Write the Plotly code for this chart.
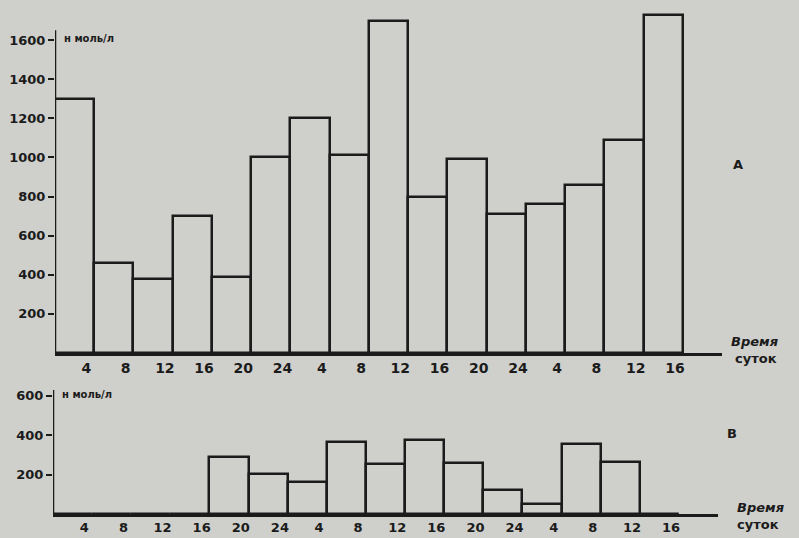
import plotly.graph_objects as go

hours = ["4", "8", "12", "16", "20", "24", "4", "8", "12", "16", "20", "24", "4", "8", "12", "16"]
values_a = [1300, 460, 380, 700, 390, 1000, 1200, 1010, 1700, 800, 990, 710, 760, 860, 1090, 1730]
values_b = [0, 0, 0, 0, 290, 205, 160, 365, 255, 375, 260, 120, 50, 355, 265, 0]
yticks_a = [200, 400, 600, 800, 1000, 1200, 1400, 1600]
yticks_b = [200, 400, 600]

W, H = 799, 538
BG = "#cfcfcb"
INK = "#1b1b1b"
FONT = "DejaVu Sans"

n = len(hours)
xc = [i + 0.5 for i in range(n)]
tickpos = [i + 0.8 for i in range(n)]

fig = go.Figure()
fig.add_trace(go.Bar(x=xc, y=values_a, width=1.0, marker=dict(color=BG, line=dict(color=INK, width=2.5)),
                     xaxis="x", yaxis="y", showlegend=False))
fig.add_trace(go.Bar(x=xc, y=values_b, width=1.0, marker=dict(color=BG, line=dict(color=INK, width=2.5)),
                     xaxis="x2", yaxis="y2", showlegend=False))

def px(x):
    return x / W

def py(y):
    return (H - y) / H

tickfont = dict(family=FONT, size=14, color=INK, weight="bold")
tickfont2 = dict(family=FONT, size=13, color=INK, weight="bold")
ytickfont = dict(family=FONT, size=13, color=INK, weight="bold")
fig.update_layout(
    template="none",
    width=W, height=H,
    margin=dict(l=0, r=0, t=0, b=0, pad=0),
    paper_bgcolor=BG, plot_bgcolor=BG,
    bargap=0,
    xaxis=dict(domain=[px(55), px(722)], range=[0, 17], tickvals=tickpos, ticktext=hours,
               showgrid=False, zeroline=False, showline=True, linecolor=INK, linewidth=2.5,
               ticks="", tickfont=tickfont, anchor="y", automargin=False),
    yaxis=dict(domain=[py(353), py(1)], range=[0, 1800], tickvals=yticks_a,
               ticktext=[str(v) for v in yticks_a],
               showgrid=False, zeroline=False, showline=False,
               ticks="outside", ticklen=6, tickwidth=2, tickcolor=INK,
               tickfont=ytickfont, anchor="x", automargin=False),
    xaxis2=dict(domain=[px(53), px(718)], range=[0, 17], tickvals=tickpos, ticktext=hours,
                showgrid=False, zeroline=False, showline=True, linecolor=INK, linewidth=2.5,
                ticks="", tickfont=tickfont2, anchor="y2", automargin=False),
    yaxis2=dict(domain=[py(514), py(386)], range=[0, 650], tickvals=yticks_b,
                ticktext=[str(v) for v in yticks_b],
                showgrid=False, zeroline=False, showline=False,
                ticks="outside", ticklen=6, tickwidth=2, tickcolor=INK,
                tickfont=ytickfont, anchor="x2", automargin=False),
)

# vertical axis lines (ending slightly above top tick)
fig.add_shape(type="line", xref="x", yref="y", x0=0, x1=0, y0=0, y1=1650,
              line=dict(color=INK, width=2.5))
fig.add_shape(type="line", xref="x2", yref="y2", x0=0, x1=0, y0=0, y1=630,
              line=dict(color=INK, width=2.5))

annots = [
    dict(x=px(62), y=py(38), text="<b>н моль/л</b>", size=10, xanchor="left"),
    dict(x=px(60), y=py(394), text="<b>н моль/л</b>", size=10, xanchor="left"),
    dict(x=px(738), y=py(164), text="<b>А</b>", size=13, xanchor="center"),
    dict(x=px(732), y=py(433), text="<b>В</b>", size=13, xanchor="center"),
    dict(x=px(729), y=py(341), text="<b><i>Время</i></b>", size=13, xanchor="left"),
    dict(x=px(733), y=py(358), text="<b>суток</b>", size=13, xanchor="left"),
    dict(x=px(735), y=py(507), text="<b><i>Время</i></b>", size=13, xanchor="left"),
    dict(x=px(735), y=py(524), text="<b>суток</b>", size=13, xanchor="left"),
]
for a in annots:
    fig.add_annotation(x=a["x"], y=a["y"], xref="paper", yref="paper", text=a["text"],
                       showarrow=False, xanchor=a["xanchor"], yanchor="middle",
                       font=dict(family=FONT, size=a["size"], color=INK))

fig.write_html("out.html", config={"displayModeBar": False},
               post_script="document.body.style.margin='0px';document.body.style.overflow='hidden';")
